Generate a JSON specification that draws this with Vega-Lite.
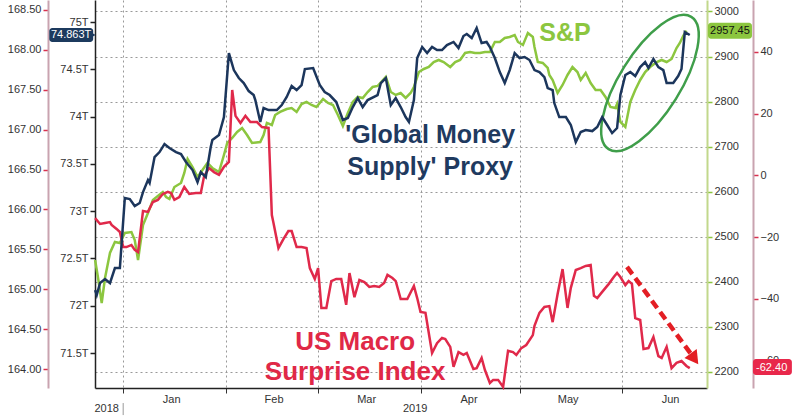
{
  "$schema": "https://vega.github.io/schema/vega-lite/v6.json",
  "width": 612,
  "height": 388,
  "autosize": {"type": "none"},
  "padding": {"left": 95, "right": 93, "top": 0, "bottom": 32},
  "background": "#ffffff",
  "config": {
    "view": {"stroke": null},
    "font": "Liberation Sans",
    "axis": {"labelFont": "Liberation Sans", "labelFontSize": 11, "labelColor": "#333333", "title": null}
  },
  "datasets": {
    "blue": [
      {"date":"2018-12-23T12:00:00Z","value":72.166},{"date":"2018-12-24","value":72.113},{"date":"2018-12-25","value":72.24},{"date":"2018-12-26T12:00:00Z","value":72.282},{"date":"2018-12-28","value":72.24},{"date":"2018-12-29T12:00:00Z","value":72.399},{"date":"2018-12-31","value":72.399},
      {"date":"2019-01-01T12:00:00Z","value":73.139},{"date":"2019-01-03","value":73.128},{"date":"2019-01-04T12:00:00Z","value":73.054},{"date":"2019-01-06","value":73.086},{"date":"2019-01-07","value":73.202},{"date":"2019-01-08T12:00:00Z","value":73.329},{"date":"2019-01-09","value":73.298},{"date":"2019-01-10T12:00:00Z","value":73.572},{"date":"2019-01-12","value":73.625},{"date":"2019-01-13T12:00:00Z","value":73.71},{"date":"2019-01-15","value":73.668},{"date":"2019-01-17","value":73.625},{"date":"2019-01-18T12:00:00Z","value":73.604},{"date":"2019-01-20","value":73.52},{"date":"2019-01-22","value":73.435},{"date":"2019-01-23T12:00:00Z","value":73.308},{"date":"2019-01-24T12:00:00Z","value":73.414},{"date":"2019-01-26","value":73.361},{"date":"2019-01-27T12:00:00Z","value":73.678},{"date":"2019-01-28","value":73.752},{"date":"2019-01-30","value":73.805},{"date":"2019-01-31T12:00:00Z","value":73.995},
      {"date":"2019-02-02","value":74.672},{"date":"2019-02-03T12:00:00Z","value":74.492},{"date":"2019-02-05","value":74.408},{"date":"2019-02-06T12:00:00Z","value":74.355},{"date":"2019-02-08","value":74.27},{"date":"2019-02-09T12:00:00Z","value":74.228},{"date":"2019-02-10","value":74.175},{"date":"2019-02-11T12:00:00Z","value":73.943},{"date":"2019-02-12T12:00:00Z","value":74.091},{"date":"2019-02-14","value":74.069},{"date":"2019-02-16T12:00:00Z","value":74.069},{"date":"2019-02-18","value":74.122},{"date":"2019-02-19T12:00:00Z","value":74.207},{"date":"2019-02-21","value":74.323},{"date":"2019-02-22T12:00:00Z","value":74.281},{"date":"2019-02-24","value":74.334},{"date":"2019-02-25","value":74.503},{"date":"2019-02-27T12:00:00Z","value":74.514},
      {"date":"2019-03-01T12:00:00Z","value":74.334},{"date":"2019-03-03","value":74.26},{"date":"2019-03-04T12:00:00Z","value":74.228},{"date":"2019-03-06T12:00:00Z","value":74.154},{"date":"2019-03-08T12:00:00Z","value":73.964},{"date":"2019-03-10","value":73.985},{"date":"2019-03-11T12:00:00Z","value":74.101},{"date":"2019-03-13","value":74.196},{"date":"2019-03-14T12:00:00Z","value":74.101},{"date":"2019-03-16","value":74.175},{"date":"2019-03-19","value":74.228},{"date":"2019-03-20","value":74.355},{"date":"2019-03-21T12:00:00Z","value":74.408},{"date":"2019-03-23","value":74.122},{"date":"2019-03-24T12:00:00Z","value":74.196},{"date":"2019-03-26","value":74.101},{"date":"2019-03-27T12:00:00Z","value":73.995},{"date":"2019-03-28T12:00:00Z","value":73.943},{"date":"2019-03-30","value":74.175},{"date":"2019-03-31","value":74.619},
      {"date":"2019-04-01T12:00:00Z","value":74.736},{"date":"2019-04-03","value":74.672},{"date":"2019-04-04T12:00:00Z","value":74.736},{"date":"2019-04-06","value":74.704},{"date":"2019-04-07T12:00:00Z","value":74.704},{"date":"2019-04-09","value":74.757},{"date":"2019-04-11","value":74.789},{"date":"2019-04-12T12:00:00Z","value":74.725},{"date":"2019-04-14","value":74.852},{"date":"2019-04-15","value":74.873},{"date":"2019-04-16T12:00:00Z","value":74.831},{"date":"2019-04-18","value":74.937},{"date":"2019-04-19T12:00:00Z","value":74.778},{"date":"2019-04-21","value":74.789},{"date":"2019-04-22","value":74.736},{"date":"2019-04-23T12:00:00Z","value":74.619},{"date":"2019-04-25","value":74.471},{"date":"2019-04-26T12:00:00Z","value":74.355},{"date":"2019-04-28","value":74.492},{"date":"2019-04-29T12:00:00Z","value":74.672},
      {"date":"2019-05-01","value":74.619},{"date":"2019-05-02T12:00:00Z","value":74.63},{"date":"2019-05-04","value":74.598},{"date":"2019-05-05T12:00:00Z","value":74.492},{"date":"2019-05-07","value":74.471},{"date":"2019-05-08T12:00:00Z","value":74.418},{"date":"2019-05-09T12:00:00Z","value":74.302},{"date":"2019-05-11","value":74.281},{"date":"2019-05-11T12:00:00Z","value":74.143},{"date":"2019-05-13","value":73.995},{"date":"2019-05-15","value":73.995},{"date":"2019-05-16T12:00:00Z","value":73.911},{"date":"2019-05-18","value":73.731},{"date":"2019-05-19T12:00:00Z","value":73.837},{"date":"2019-05-21","value":73.858},{"date":"2019-05-23","value":73.847},{"date":"2019-05-24T12:00:00Z","value":73.89},{"date":"2019-05-26","value":73.995},{"date":"2019-05-27T12:00:00Z","value":73.911},{"date":"2019-05-29","value":73.826},{"date":"2019-05-30T12:00:00Z","value":73.879},{"date":"2019-05-31T12:00:00Z","value":74.228},
      {"date":"2019-06-02","value":74.44},{"date":"2019-06-03T12:00:00Z","value":74.471},{"date":"2019-06-05","value":74.429},{"date":"2019-06-06T12:00:00Z","value":74.524},{"date":"2019-06-08","value":74.577},{"date":"2019-06-09","value":74.514},{"date":"2019-06-10T12:00:00Z","value":74.609},{"date":"2019-06-12","value":74.524},{"date":"2019-06-13T12:00:00Z","value":74.492},{"date":"2019-06-14T12:00:00Z","value":74.355},{"date":"2019-06-16T12:00:00Z","value":74.355},{"date":"2019-06-18","value":74.429},{"date":"2019-06-19","value":74.503},{"date":"2019-06-20","value":74.894},{"date":"2019-06-21T12:00:00Z","value":74.863}
    ],
    "green": [
      {"date":"2018-12-23T12:00:00Z","value":2448.5},{"date":"2018-12-24T12:00:00Z","value":2404.1},{"date":"2018-12-25T12:00:00Z","value":2353.1},{"date":"2018-12-26T12:00:00Z","value":2408.6},{"date":"2018-12-28","value":2464.0},{"date":"2018-12-29T12:00:00Z","value":2488.5},{"date":"2018-12-31","value":2486.2},
      {"date":"2019-01-01T12:00:00Z","value":2508.4},{"date":"2019-01-03T12:00:00Z","value":2510.6},{"date":"2019-01-04T12:00:00Z","value":2492.9},{"date":"2019-01-05T12:00:00Z","value":2448.5},{"date":"2019-01-07","value":2526.2},{"date":"2019-01-08T12:00:00Z","value":2552.8},{"date":"2019-01-10","value":2581.7},{"date":"2019-01-11T12:00:00Z","value":2590.5},{"date":"2019-01-13","value":2599.4},{"date":"2019-01-14","value":2588.3},{"date":"2019-01-15","value":2583.9},{"date":"2019-01-16T12:00:00Z","value":2610.5},{"date":"2019-01-18T12:00:00Z","value":2619.4},{"date":"2019-01-19T12:00:00Z","value":2641.6},{"date":"2019-01-20T12:00:00Z","value":2672.7},{"date":"2019-01-22","value":2654.9},{"date":"2019-01-23T12:00:00Z","value":2632.7},{"date":"2019-01-25","value":2648.2},{"date":"2019-01-26T12:00:00Z","value":2663.8},{"date":"2019-01-28","value":2652.7},{"date":"2019-01-30","value":2643.8},{"date":"2019-01-31T12:00:00Z","value":2681.5},
      {"date":"2019-02-01T12:00:00Z","value":2708.2},{"date":"2019-02-03","value":2719.3},{"date":"2019-02-04T12:00:00Z","value":2732.6},{"date":"2019-02-06","value":2741.5},{"date":"2019-02-07T12:00:00Z","value":2725.9},{"date":"2019-02-09","value":2708.2},{"date":"2019-02-11T12:00:00Z","value":2710.4},{"date":"2019-02-12T12:00:00Z","value":2725.9},{"date":"2019-02-13T12:00:00Z","value":2752.6},{"date":"2019-02-15","value":2748.1},{"date":"2019-02-16","value":2770.3},{"date":"2019-02-17T12:00:00Z","value":2777.0},{"date":"2019-02-19T12:00:00Z","value":2783.6},{"date":"2019-02-21","value":2785.8},{"date":"2019-02-22T12:00:00Z","value":2777.0},{"date":"2019-02-24","value":2794.7},{"date":"2019-02-25T12:00:00Z","value":2799.2},{"date":"2019-02-27","value":2792.5},{"date":"2019-02-28T12:00:00Z","value":2788.1},
      {"date":"2019-03-02T12:00:00Z","value":2805.8},{"date":"2019-03-04","value":2796.9},{"date":"2019-03-05T12:00:00Z","value":2792.5},{"date":"2019-03-07","value":2770.3},{"date":"2019-03-08T12:00:00Z","value":2745.9},{"date":"2019-03-10","value":2774.7},{"date":"2019-03-11T12:00:00Z","value":2799.2},{"date":"2019-03-13","value":2810.3},{"date":"2019-03-14T12:00:00Z","value":2808.0},{"date":"2019-03-16","value":2821.3},{"date":"2019-03-17T12:00:00Z","value":2832.4},{"date":"2019-03-19","value":2834.7},{"date":"2019-03-21T12:00:00Z","value":2854.6},{"date":"2019-03-23","value":2821.3},{"date":"2019-03-24T12:00:00Z","value":2814.7},{"date":"2019-03-26","value":2819.1},{"date":"2019-03-27T12:00:00Z","value":2808.0},{"date":"2019-03-29","value":2819.1},{"date":"2019-03-30","value":2832.4},{"date":"2019-03-31T12:00:00Z","value":2865.7},
      {"date":"2019-04-02","value":2872.4},{"date":"2019-04-03T12:00:00Z","value":2876.8},{"date":"2019-04-05","value":2887.9},{"date":"2019-04-06T12:00:00Z","value":2892.4},{"date":"2019-04-08","value":2887.9},{"date":"2019-04-10","value":2876.8},{"date":"2019-04-11T12:00:00Z","value":2887.9},{"date":"2019-04-13","value":2892.4},{"date":"2019-04-14T12:00:00Z","value":2907.9},{"date":"2019-04-16","value":2910.1},{"date":"2019-04-17T12:00:00Z","value":2907.9},{"date":"2019-04-19","value":2907.9},{"date":"2019-04-20T12:00:00Z","value":2910.1},{"date":"2019-04-22","value":2910.1},{"date":"2019-04-23T12:00:00Z","value":2932.3},{"date":"2019-04-25","value":2932.3},{"date":"2019-04-26T12:00:00Z","value":2941.2},{"date":"2019-04-28","value":2943.4},{"date":"2019-04-29T12:00:00Z","value":2947.8},{"date":"2019-04-30T12:00:00Z","value":2932.3},
      {"date":"2019-05-02","value":2925.7},{"date":"2019-05-03T12:00:00Z","value":2952.3},{"date":"2019-05-05","value":2943.4},{"date":"2019-05-05T12:00:00Z","value":2921.2},{"date":"2019-05-06T12:00:00Z","value":2887.9},{"date":"2019-05-08","value":2885.7},{"date":"2019-05-09T12:00:00Z","value":2874.6},{"date":"2019-05-10","value":2859.1},{"date":"2019-05-11","value":2848.0},{"date":"2019-05-12T12:00:00Z","value":2819.1},{"date":"2019-05-14","value":2836.9},{"date":"2019-05-15T12:00:00Z","value":2859.1},{"date":"2019-05-17","value":2876.8},{"date":"2019-05-18T12:00:00Z","value":2865.7},{"date":"2019-05-19T12:00:00Z","value":2848.0},{"date":"2019-05-21","value":2863.5},{"date":"2019-05-22T12:00:00Z","value":2841.3},{"date":"2019-05-24","value":2825.8},{"date":"2019-05-25T12:00:00Z","value":2825.8},{"date":"2019-05-27","value":2810.3},{"date":"2019-05-28T12:00:00Z","value":2788.1},{"date":"2019-05-30","value":2785.8},{"date":"2019-05-30T12:00:00Z","value":2794.7},{"date":"2019-05-31T12:00:00Z","value":2754.8},
      {"date":"2019-06-02","value":2743.7},{"date":"2019-06-03T12:00:00Z","value":2799.2},{"date":"2019-06-05","value":2825.8},{"date":"2019-06-06T12:00:00Z","value":2848.0},{"date":"2019-06-08","value":2865.7},{"date":"2019-06-09T12:00:00Z","value":2876.8},{"date":"2019-06-11T12:00:00Z","value":2887.9},{"date":"2019-06-13","value":2892.4},{"date":"2019-06-14T12:00:00Z","value":2887.9},{"date":"2019-06-16","value":2894.6},{"date":"2019-06-17T12:00:00Z","value":2919.0},{"date":"2019-06-18T12:00:00Z","value":2930.1},{"date":"2019-06-19T12:00:00Z","value":2945.6},{"date":"2019-06-20T12:00:00Z","value":2957.45}
    ],
    "red": [
      {"date":"2018-12-23T12:00:00Z","value":-13.8},{"date":"2018-12-25","value":-15.7},{"date":"2018-12-26T12:00:00Z","value":-15.4},{"date":"2018-12-28","value":-15.1},{"date":"2018-12-28T12:00:00Z","value":-16.0},{"date":"2018-12-30","value":-17.3},{"date":"2018-12-31","value":-18.3},
      {"date":"2019-01-01","value":-23.2},{"date":"2019-01-02","value":-23.2},{"date":"2019-01-03T12:00:00Z","value":-22.5},{"date":"2019-01-04T12:00:00Z","value":-24.1},{"date":"2019-01-05T12:00:00Z","value":-24.8},{"date":"2019-01-07","value":-11.5},{"date":"2019-01-08T12:00:00Z","value":-11.8},{"date":"2019-01-10","value":-8.6},{"date":"2019-01-11T12:00:00Z","value":-7.9},{"date":"2019-01-13","value":-6.0},{"date":"2019-01-14T12:00:00Z","value":-5.3},{"date":"2019-01-15T12:00:00Z","value":-5.7},{"date":"2019-01-16T12:00:00Z","value":-7.9},{"date":"2019-01-18","value":-7.0},{"date":"2019-01-19T12:00:00Z","value":-3.7},{"date":"2019-01-21","value":-6.0},{"date":"2019-01-23","value":-5.7},{"date":"2019-01-24T12:00:00Z","value":-5.7},{"date":"2019-01-25T12:00:00Z","value":-0.2},{"date":"2019-01-27","value":2.4},{"date":"2019-01-28T12:00:00Z","value":1.1},{"date":"2019-01-30","value":0.2},{"date":"2019-01-31T12:00:00Z","value":2.8},
      {"date":"2019-02-02","value":4.4},{"date":"2019-02-03","value":27.7},{"date":"2019-02-04","value":19.3},{"date":"2019-02-05T12:00:00Z","value":17.0},{"date":"2019-02-07","value":19.3},{"date":"2019-02-08T12:00:00Z","value":17.3},{"date":"2019-02-10T12:00:00Z","value":17.3},{"date":"2019-02-12","value":15.7},{"date":"2019-02-14","value":15.4},{"date":"2019-02-15","value":-12.8},{"date":"2019-02-15T12:00:00Z","value":-15.4},{"date":"2019-02-17","value":-23.5},{"date":"2019-02-18T12:00:00Z","value":-20.6},{"date":"2019-02-20","value":-18.0},{"date":"2019-02-21","value":-18.0},{"date":"2019-02-22T12:00:00Z","value":-23.2},{"date":"2019-02-24","value":-23.2},{"date":"2019-02-25T12:00:00Z","value":-23.5},{"date":"2019-02-26T12:00:00Z","value":-30.0},{"date":"2019-02-28","value":-33.5},
      {"date":"2019-03-01","value":-30.0},{"date":"2019-03-02","value":-42.9},{"date":"2019-03-03T12:00:00Z","value":-42.9},{"date":"2019-03-05","value":-34.2},{"date":"2019-03-06T12:00:00Z","value":-33.5},{"date":"2019-03-08","value":-33.5},{"date":"2019-03-09T12:00:00Z","value":-41.9},{"date":"2019-03-10T12:00:00Z","value":-31.6},{"date":"2019-03-12","value":-39.4},{"date":"2019-03-13T12:00:00Z","value":-33.8},{"date":"2019-03-15","value":-34.5},{"date":"2019-03-16T12:00:00Z","value":-36.1},{"date":"2019-03-18","value":-35.8},{"date":"2019-03-19T12:00:00Z","value":-36.1},{"date":"2019-03-21","value":-34.8},{"date":"2019-03-22","value":-32.2},{"date":"2019-03-23T12:00:00Z","value":-33.2},{"date":"2019-03-24T12:00:00Z","value":-34.2},{"date":"2019-03-26","value":-40.0},{"date":"2019-03-28","value":-40.0},{"date":"2019-03-30","value":-35.8},{"date":"2019-03-31","value":-39.7},
      {"date":"2019-04-01","value":-44.2},{"date":"2019-04-02T12:00:00Z","value":-44.5},{"date":"2019-04-04T12:00:00Z","value":-57.5},{"date":"2019-04-06","value":-54.3},{"date":"2019-04-07T12:00:00Z","value":-52.6},{"date":"2019-04-08T12:00:00Z","value":-53.0},{"date":"2019-04-10","value":-55.5},{"date":"2019-04-11","value":-62.0},{"date":"2019-04-12T12:00:00Z","value":-57.2},{"date":"2019-04-14","value":-58.1},{"date":"2019-04-15","value":-57.5},{"date":"2019-04-17","value":-62.7},{"date":"2019-04-18","value":-62.4},{"date":"2019-04-19T12:00:00Z","value":-59.1},{"date":"2019-04-20T12:00:00Z","value":-63.0},{"date":"2019-04-22","value":-67.2},{"date":"2019-04-23","value":-66.2},{"date":"2019-04-24T12:00:00Z","value":-66.2},{"date":"2019-04-26","value":-68.5},{"date":"2019-04-27T12:00:00Z","value":-56.8},{"date":"2019-04-29","value":-57.2},{"date":"2019-04-30","value":-58.1},
      {"date":"2019-05-01T12:00:00Z","value":-55.9},{"date":"2019-05-03","value":-54.9},{"date":"2019-05-05","value":-51.7},{"date":"2019-05-05T12:00:00Z","value":-48.7},{"date":"2019-05-07","value":-44.5},{"date":"2019-05-08T12:00:00Z","value":-42.6},{"date":"2019-05-10","value":-42.3},{"date":"2019-05-11","value":-47.5},{"date":"2019-05-12T12:00:00Z","value":-38.4},{"date":"2019-05-14","value":-30.3},{"date":"2019-05-15T12:00:00Z","value":-42.9},{"date":"2019-05-16T12:00:00Z","value":-36.4},{"date":"2019-05-18","value":-30.6},{"date":"2019-05-19T12:00:00Z","value":-30.0},{"date":"2019-05-21","value":-29.3},{"date":"2019-05-22T12:00:00Z","value":-29.0},{"date":"2019-05-23T12:00:00Z","value":-39.0},{"date":"2019-05-24T12:00:00Z","value":-39.7},{"date":"2019-05-26","value":-37.7},{"date":"2019-05-28","value":-35.1},{"date":"2019-05-29T12:00:00Z","value":-32.9},{"date":"2019-05-30T12:00:00Z","value":-31.6},{"date":"2019-05-31T12:00:00Z","value":-32.9},
      {"date":"2019-06-02","value":-35.5},{"date":"2019-06-03","value":-34.2},{"date":"2019-06-04","value":-35.1},{"date":"2019-06-05","value":-46.2},{"date":"2019-06-06T12:00:00Z","value":-46.8},{"date":"2019-06-07T12:00:00Z","value":-56.2},{"date":"2019-06-09","value":-55.9},{"date":"2019-06-10T12:00:00Z","value":-52.3},{"date":"2019-06-12","value":-58.5},{"date":"2019-06-13","value":-59.1},{"date":"2019-06-14T12:00:00Z","value":-55.5},{"date":"2019-06-16","value":-62.4},{"date":"2019-06-17T12:00:00Z","value":-60.7},{"date":"2019-06-19","value":-60.1},{"date":"2019-06-20T12:00:00Z","value":-61.7},{"date":"2019-06-21T12:00:00Z","value":-62.4}
    ],
    "years": [
      {"label": "2018", "date": "2018-12-27"},
      {"label": "2019", "date": "2019-03-30T09:00:00Z"}
    ]
  },
  "layer": [
    {
      "data": {"values": [{"v": 166}]},
      "mark": {"type": "point", "opacity": 0},
      "encoding": {
        "y": {
          "field": "v", "type": "quantitative",
          "scale": {"domain": [163.762, 168.625], "nice": false, "zero": false},
          "axis": {"orient": "left", "offset": 47, "values": [164, 164.5, 165, 165.5, 166, 166.5, 167, 167.5, 168, 168.5], "format": ".2f", "domainColor": "#c9a3b0", "domainWidth": 2, "tickColor": "#d9304f", "tickWidth": 1.5, "tickSize": 5, "grid": false, "labelPadding": 2}
        }
      }
    },
    {
      "layer": [
        {
          "data": {"name": "green"},
          "mark": {"type": "line", "color": "#8cc63f", "strokeWidth": 2.5},
          "encoding": {
            "x": {
              "field": "date", "type": "temporal",
              "scale": {"domain": [{"year": 2018, "month": 12, "date": 23, "hours": 11, "minutes": 17}, {"year": 2019, "month": 6, "date": 26, "hours": 17, "minutes": 17}]},
              "axis": {
                "values": [{"year": 2019, "month": 1, "date": 1}, {"year": 2019, "month": 2, "date": 1}, {"year": 2019, "month": 3, "date": 1}, {"year": 2019, "month": 4, "date": 1}, {"year": 2019, "month": 5, "date": 1}, {"year": 2019, "month": 6, "date": 1}],
                "format": "%b", "labelOffset": 48, "labelFlush": false, "labelOverlap": false, "labelPadding": 0,
                "tickSize": 5, "tickColor": "#333333", "domainColor": "#222222", "domainWidth": 1.5,
                "grid": true, "gridDash": [2, 3], "gridColor": "#999999"
              }
            },
            "y": {
              "field": "value", "type": "quantitative",
              "scale": {"domain": [2164.4, 3025.5], "nice": false, "zero": false},
              "axis": {"orient": "right", "offset": 0, "values": [2200, 2300, 2400, 2500, 2600, 2700, 2800, 2900, 3000], "format": "d", "domainColor": "#c2d88c", "domainWidth": 2, "tickColor": "#8cc63f", "tickWidth": 1.5, "tickSize": 5, "labelPadding": 2, "grid": true, "gridDash": [2, 3], "gridColor": "#999999"}
            }
          }
        },
        {
          "data": {"values": [{"t": "ellipse"}]},
          "mark": {"type": "point", "shape": "M -1 0 A 1 0.39 0 1 1 1 0 A 1 0.39 0 1 1 -1 0 Z", "size": 24336, "angle": 302, "filled": false, "color": "#3f9e4a", "strokeWidth": 2.5, "opacity": 1},
          "encoding": {
            "x": {"datum": {"year": 2019, "month": 6, "date": 9, "hours": 11}, "type": "temporal"},
            "y": {"datum": 2841.3, "type": "quantitative"}
          }
        },
        {
          "data": {"values": [{"label": "S&P"}]},
          "mark": {"type": "text", "font": "Liberation Sans", "fontWeight": "bold", "fontSize": 25, "color": "#8cc63f", "align": "center", "baseline": "middle"},
          "encoding": {
            "x": {"datum": {"year": 2019, "month": 5, "date": 14, "hours": 18}, "type": "temporal"},
            "y": {"datum": 2952.3, "type": "quantitative"},
            "text": {"field": "label"}
          }
        },
        {
          "data": {"values": [{"label": "2957.45"}]},
          "mark": {"type": "rect", "color": "#8cc63f", "cornerRadius": 3},
          "encoding": {
            "x": {"datum": {"year": 2019, "month": 6, "date": 27, "hours": 0, "minutes": 30}, "type": "temporal"},
            "x2": {"datum": {"year": 2019, "month": 7, "date": 10, "hours": 8}},
            "y": {"datum": 2975.1, "type": "quantitative"},
            "y2": {"datum": 2939.6}
          }
        },
        {
          "data": {"values": [{"label": "2957.45"}]},
          "mark": {"type": "text", "font": "Liberation Sans", "fontSize": 11, "color": "#111111", "align": "center", "baseline": "middle"},
          "encoding": {
            "x": {"datum": {"year": 2019, "month": 7, "date": 3, "hours": 16}, "type": "temporal"},
            "y": {"datum": 2957.45, "type": "quantitative"},
            "text": {"field": "label"}
          }
        }
      ]
    },
    {
      "layer": [
        {
          "data": {"name": "red"},
          "mark": {"type": "line", "color": "#e0294a", "strokeWidth": 2.5},
          "encoding": {
            "x": {"field": "date", "type": "temporal"},
            "y": {
              "field": "value", "type": "quantitative",
              "scale": {"domain": [-68.83, 56.84], "nice": false, "zero": false},
              "axis": {"orient": "right", "offset": 46, "values": [-60, -40, -20, 0, 20, 40], "domainColor": "#c9a3b0", "domainWidth": 2, "tickColor": "#d9304f", "tickWidth": 1.5, "tickSize": 5, "labelPadding": 2, "grid": false}
            }
          }
        },
        {
          "data": {"values": [{"t": "arrow"}]},
          "mark": {"type": "rule", "color": "#e31e24", "strokeWidth": 4.5, "strokeDash": [9, 5]},
          "encoding": {
            "x": {"datum": {"year": 2019, "month": 6, "date": 2, "hours": 12}, "type": "temporal"},
            "x2": {"datum": {"year": 2019, "month": 6, "date": 21, "hours": 21}},
            "y": {"datum": -29.6, "type": "quantitative"},
            "y2": {"datum": -57.8}
          }
        },
        {
          "data": {"values": [{"t": "arrowhead"}]},
          "mark": {"type": "point", "shape": "triangle-down", "filled": true, "size": 230, "angle": 324, "color": "#e31e24", "opacity": 1},
          "encoding": {
            "x": {"datum": {"year": 2019, "month": 6, "date": 22, "hours": 22}, "type": "temporal"},
            "y": {"datum": -59.4, "type": "quantitative"}
          }
        },
        {
          "data": {"values": [{"t": "label"}]},
          "mark": {"type": "text", "text": ["US Macro", "Surprise Index"], "lineHeight": 30, "font": "Liberation Sans", "fontWeight": "bold", "fontSize": 26, "color": "#e02847", "align": "center", "baseline": "middle"},
          "encoding": {
            "x": {"datum": {"year": 2019, "month": 3, "date": 12, "hours": 5}, "type": "temporal"},
            "y": {"datum": -53.9, "type": "quantitative"}
          }
        },
        {
          "data": {"values": [{"label": "-62.40"}]},
          "mark": {"type": "rect", "color": "#e8284b", "cornerRadius": 3},
          "encoding": {
            "x": {"datum": {"year": 2019, "month": 7, "date": 10, "hours": 15}, "type": "temporal"},
            "x2": {"datum": {"year": 2019, "month": 7, "date": 22, "hours": 10}},
            "y": {"datum": -59.4, "type": "quantitative"},
            "y2": {"datum": -64.6}
          }
        },
        {
          "data": {"values": [{"label": "-62.40"}]},
          "mark": {"type": "text", "font": "Liberation Sans", "fontSize": 11, "color": "#ffffff", "align": "center", "baseline": "middle"},
          "encoding": {
            "x": {"datum": {"year": 2019, "month": 7, "date": 16, "hours": 7}, "type": "temporal"},
            "y": {"datum": -62.4, "type": "quantitative"},
            "text": {"field": "label"}
          }
        },
        {
          "data": {"name": "years"},
          "mark": {"type": "text", "font": "Liberation Sans", "fontSize": 11, "color": "#333333", "align": "center", "baseline": "middle"},
          "encoding": {
            "x": {"field": "date", "type": "temporal"},
            "y": {"datum": -75.6, "type": "quantitative"},
            "text": {"field": "label"}
          }
        },
        {
          "data": {"values": [{"t": "separator"}]},
          "mark": {"type": "rule", "color": "#999999", "strokeWidth": 1},
          "encoding": {
            "x": {"datum": {"year": 2019, "month": 1, "date": 1}, "type": "temporal"},
            "y": {"datum": -73.7, "type": "quantitative"},
            "y2": {"datum": -77.6}
          }
        }
      ]
    },
    {
      "layer": [
        {
          "data": {"name": "blue"},
          "mark": {"type": "line", "color": "#1c365c", "strokeWidth": 2.5},
          "encoding": {
            "x": {"field": "date", "type": "temporal"},
            "y": {
              "field": "value", "type": "quantitative",
              "scale": {"domain": [71.13, 75.233], "nice": false, "zero": false},
              "axis": {"orient": "left", "offset": 0, "values": [71.5, 72, 72.5, 73, 73.5, 74, 74.5, 75], "labelExpr": "datum.value + 'T'", "domainColor": "#222222", "domainWidth": 1.5, "tickColor": "#222222", "tickWidth": 1.5, "tickSize": 5, "labelPadding": 2, "grid": false}
            }
          }
        },
        {
          "data": {"values": [{"t": "label"}]},
          "mark": {"type": "text", "text": ["'Global Money", "Supply' Proxy"], "lineHeight": 32, "font": "Liberation Sans", "fontWeight": "bold", "fontSize": 25, "color": "#1f3a5f", "align": "center", "baseline": "middle"},
          "encoding": {
            "x": {"datum": {"year": 2019, "month": 4, "date": 3, "hours": 22}, "type": "temporal"},
            "y": {"datum": 73.805, "type": "quantitative"}
          }
        },
        {
          "data": {"values": [{"label": "74.863T"}]},
          "mark": {"type": "rect", "color": "#1c3a5e", "cornerRadius": 3},
          "encoding": {
            "x": {"datum": {"year": 2018, "month": 12, "date": 9, "hours": 15}, "type": "temporal"},
            "x2": {"datum": {"year": 2018, "month": 12, "date": 22, "hours": 22}},
            "y": {"datum": 74.937, "type": "quantitative"},
            "y2": {"datum": 74.789}
          }
        },
        {
          "data": {"values": [{"label": "74.863T"}]},
          "mark": {"type": "point", "shape": "triangle-right", "filled": true, "size": 60, "color": "#1c3a5e", "opacity": 1},
          "encoding": {
            "x": {"datum": {"year": 2018, "month": 12, "date": 22, "hours": 15}, "type": "temporal"},
            "y": {"datum": 74.863, "type": "quantitative"}
          }
        },
        {
          "data": {"values": [{"label": "74.863T"}]},
          "mark": {"type": "text", "font": "Liberation Sans", "fontSize": 11, "color": "#ffffff", "align": "center", "baseline": "middle"},
          "encoding": {
            "x": {"datum": {"year": 2018, "month": 12, "date": 16, "hours": 6}, "type": "temporal"},
            "y": {"datum": 74.863, "type": "quantitative"},
            "text": {"field": "label"}
          }
        }
      ]
    }
  ],
  "resolve": {"scale": {"y": "independent"}, "axis": {"y": "independent"}}
}
